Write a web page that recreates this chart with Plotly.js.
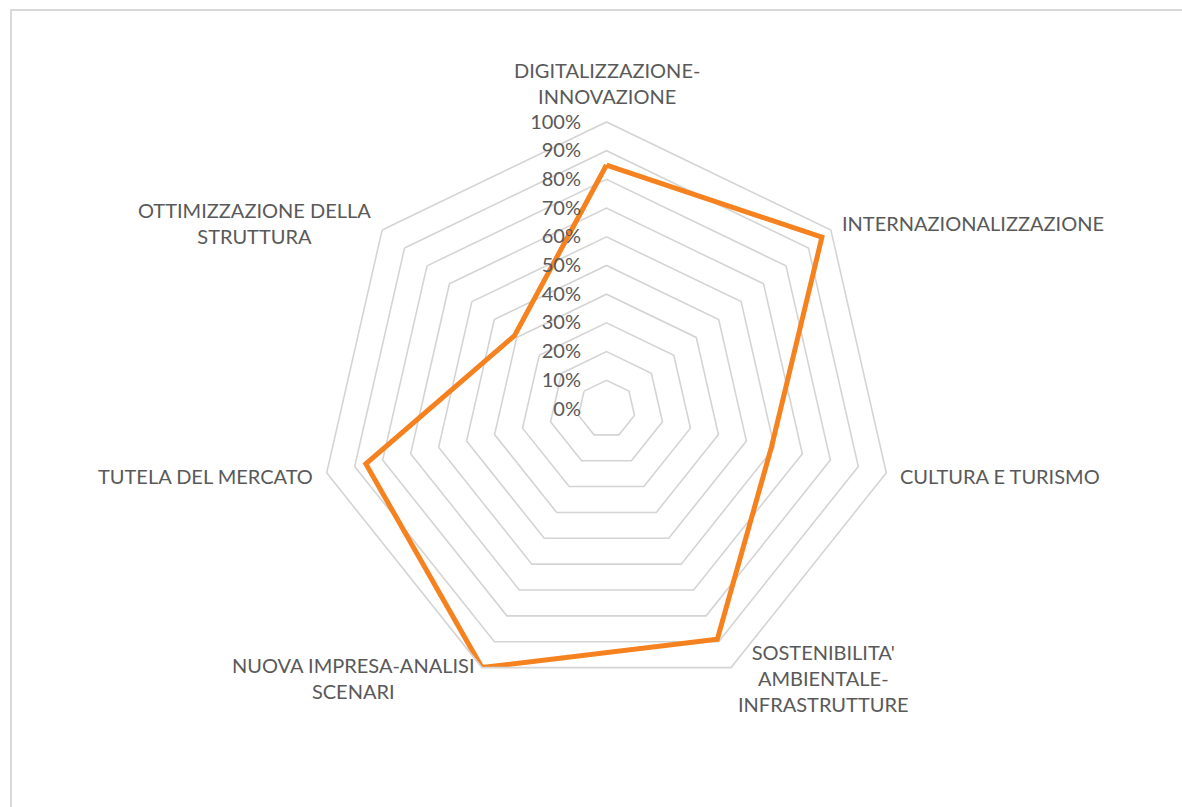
<!DOCTYPE html>
<html>
<head>
<meta charset="utf-8">
<script src="https://cdn.plot.ly/plotly-3.0.1.min.js"></script>
<style>
html,body{margin:0;padding:0;background:#fff;}
#chart{width:1182px;height:807px;}
</style>
</head>
<body>
<div id="chart"></div>
<script>
const categories = [
  "DIGITALIZZAZIONE-<br>INNOVAZIONE",
  "INTERNAZIONALIZZAZIONE",
  "CULTURA E TURISMO",
  "SOSTENIBILITA'<br>AMBIENTALE-<br>INFRASTRUTTURE",
  "NUOVA IMPRESA-ANALISI<br>SCENARI",
  "TUTELA DEL MERCATO",
  "OTTIMIZZAZIONE DELLA<br>STRUTTURA"
];
const values = [0.85, 0.96, 0.59, 0.89, 1.00, 0.86, 0.41];
const radialTicks = [0, 0.1, 0.2, 0.3, 0.4, 0.5, 0.6, 0.7, 0.8, 0.9, 1.0];

const W = 1182, H = 807;
const cx = 606.5, cy = 409, R = 287;
const labelGap = 12;

const trace = {
  type: 'scatterpolar',
  r: values.concat([values[0]]),
  theta: categories.concat([categories[0]]),
  mode: 'lines',
  line: {color: '#F5821F', width: 5, shape: 'linear'},
  hoverinfo: 'skip',
  showlegend: false
};

// category labels placed around the polygon, computed from the category index
const n = categories.length;
const annotations = categories.map((c, i) => {
  const th = (90 - i * 360 / n) * Math.PI / 180;
  const cs = Math.cos(th), sn = Math.sin(th);
  const px = cx + (R + labelGap) * cs;
  const py = cy - (R + labelGap) * sn;
  return {
    xref: 'paper', yref: 'paper',
    x: px / W, y: 1 - py / H,
    text: c, showarrow: false, align: 'center',
    xanchor: cs > 0.3 ? 'left' : (cs < -0.3 ? 'right' : 'center'),
    yanchor: sn > 0.9 ? 'bottom' : 'middle',
    font: {size: 20, color: '#595959'}
  };
});

const layout = {
  width: W, height: H,
  margin: {l: 0, r: 0, t: 0, b: 0},
  paper_bgcolor: '#ffffff',
  font: {family: 'Lato, "Open Sans", sans-serif', color: '#595959', size: 18},
  polar: {
    domain: {
      x: [(cx - R) / W, (cx + R) / W],
      y: [(H - cy - R) / H, (H - cy + R) / H]
    },
    bgcolor: 'rgba(0,0,0,0)',
    gridshape: 'linear',
    radialaxis: {
      range: [0, 1],
      tickvals: radialTicks,
      tickformat: '.0%',
      angle: 90,
      side: 'counterclockwise',
      tickangle: 90,
      showline: false,
      ticks: 'outside',
      ticklen: 18,
      tickcolor: 'rgba(0,0,0,0)',
      gridcolor: '#d4d4d4',
      gridwidth: 1.6,
      tickfont: {size: 20, color: '#595959'}
    },
    angularaxis: {
      direction: 'clockwise',
      rotation: 90,
      showgrid: false,
      showline: true,
      linecolor: '#d4d4d4',
      linewidth: 1.6,
      ticks: '',
      showticklabels: false
    }
  },
  annotations: annotations,
  shapes: [{
    type: 'rect', xref: 'paper', yref: 'paper',
    x0: 11 / W, x1: 1.05, y0: -0.05, y1: 1 - 10 / H,
    line: {color: '#d9d9d9', width: 2}, fillcolor: 'rgba(0,0,0,0)', layer: 'below'
  }]
};

Plotly.newPlot('chart', [trace], layout, {staticPlot: true, displayModeBar: false});
</script>
</body>
</html>
